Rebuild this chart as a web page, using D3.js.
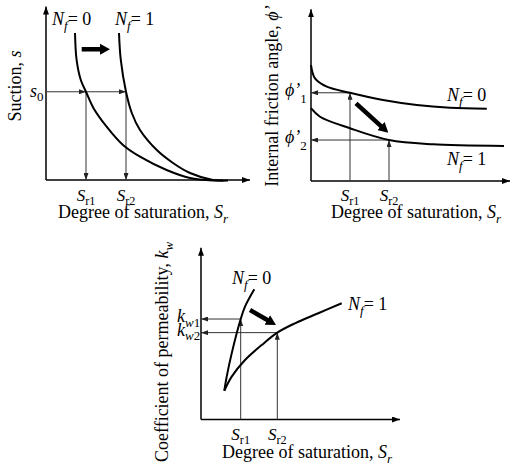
<!DOCTYPE html>
<html><head><meta charset="utf-8">
<script src="https://cdn.jsdelivr.net/npm/d3@7"></script>
<style>
body{margin:0;background:#fff}
svg{display:block}
</style>
</head><body>
<svg id="c" width="514" height="466"></svg>
<script>
// ---------- DATA ----------
// Panel A: suction s vs degree of saturation Sr (arbitrary 0-100 units)
const suctionNf0 = [[14.5,86.5],[15.3,70.6],[17.4,58.8],[20,51.9],[23.7,42.4],[30.3,31.4],[38.5,20.6],[47,13.7],[60.3,5.9],[72,1.2],[83.5,-0.3],[88.5,-0.3]];
const suctionNf1 = [[36.5,86.5],[37.4,70.6],[40,51.9],[42.9,39.4],[47,29.4],[55.4,17.6],[63.5,10],[72,4.1],[83.5,0],[91,-0.3]];
const suctionRefX = [20, 40];      // Sr1, Sr2
const suctionRefY = [51.9];        // s0
const suctionShift = [[17.85,76.9],[32,76.9]];

// Panel B: internal friction angle vs degree of saturation
const frictionNf0 = [[0,68.2],[2,60.4],[7.9,55.5],[19.5,51.9],[36,47.6],[52.9,44.7],[69.5,43.1],[87.9,42.5]];
const frictionNf1 = [[0,42.8],[4.5,37.8],[19.5,31],[39,24.1],[61,21.6],[96.5,20.6]];
const frictionRefX = [19.5, 39];   // Sr1, Sr2
const frictionRefY = [51.9, 24.1]; // phi'1, phi'2
const frictionShift = [[22.5,45.7],[38.65,28.4]];

// Panel C: coefficient of permeability vs degree of saturation
const permNf0 = [[11.65,16.9],[12.85,25.2],[15.35,38.9],[19.85,59.1],[22,66.4],[26.65,76.6]];
const permNf1 = [[11.65,16.9],[15.35,25.2],[22,35],[30.35,43.8],[38.15,51.1],[47,56.6],[58.65,62.5],[70.35,68.4]];
const permRefX = [19.85, 38.15];   // Sr1, Sr2
const permRefY = [59.1, 51.1];     // kw1, kw2
const permShift = [[24.5,64.4],[37.5,55.6]];

// Text labels
const xTitle = [["Degree of saturation, ",""],["S","i"],["r","isub"]];
const yTitles = [
  [["Suction, ",""],["s","i"]],
  [["Internal friction angle, ",""],["ϕ’","i"]],
  [["Coefficient of permeability, ",""],["k","i"],["w","isub"]]
];
const nfLabels = [[["N","i"],["f","isub"],["= 0","up"]], [["N","i"],["f","isub"],["= 1","up"]]];
const srLabels = [[["S","i"],["r1","sub"]], [["S","i"],["r2","sub"]]];
const s0Label = [["s","i"],["0","sub"]];
const phiLabels = [[["ϕ’","i"],["1","lowsub"]], [["ϕ’","i"],["2","lowsub"]]];
const kwLabels = [[["k","i"],["w","isub"],["1","sub2"]], [["k","i"],["w","isub"],["2","sub2"]]];

// ---------- DRAWING ----------
const FONT = "Liberation Serif";
const svg = d3.select("#c");
const defs = svg.append("defs");
function marker(id, w, l, color){
  defs.append("marker").attr("id", id).attr("viewBox", `0 ${-w/2} ${l} ${w}`)
    .attr("refX", l).attr("refY", 0).attr("markerWidth", l).attr("markerHeight", w)
    .attr("markerUnits", "userSpaceOnUse").attr("orient", "auto")
    .append("path").attr("d", `M0,${-w/2}L${l},0L0,${w/2}Z`).attr("fill", color);
}
marker("thin", 5, 7, "#222");
marker("axis", 6, 8, "#000");
marker("thick", 11, 10, "#000");

function rich(g, x, y, parts, size, anchor, rotate){
  const t = g.append("text").attr("font-size", size).attr("text-anchor", anchor || "start")
    .attr("font-family", FONT).attr("fill", "#000");
  if (rotate) t.attr("transform", `translate(${x},${y}) rotate(-90)`);
  else t.attr("x", x).attr("y", y);
  let shift = 0;
  parts.forEach(([s, st]) => {
    const sp = t.append("tspan").text(s);
    let target = 0, fs = size;
    if (st === "i") sp.attr("font-style", "italic");
    if (st === "isub"){ sp.attr("font-style","italic"); target = size*0.25; fs = size*0.72; }
    if (st === "sub"){ target = size*0.22; fs = size*0.72; }
    if (st === "sub2"){ target = size*0.25; fs = size*0.72; }
    if (st === "lowsub"){ target = size*0.38; fs = size*0.72; }
    sp.attr("font-size", fs);
    if (target !== shift){ sp.attr("dy", target - shift); shift = target; }
  });
  return t;
}

function panel(cfg){
  const g = svg.append("g");
  const x = d3.scaleLinear().domain([0,100]).range(cfg.xr);
  const y = d3.scaleLinear().domain([0,100]).range(cfg.yr);
  const L = d3.line().x(d => x(d[0])).y(d => y(d[1])).curve(d3.curveCatmullRom.alpha(0.5));
  // axes
  g.append("line").attr("x1", x(0)).attr("y1", y(0)).attr("x2", x(0)).attr("y2", y(cfg.yTop))
    .attr("stroke", "#000").attr("stroke-width", 1.5).attr("marker-end", "url(#axis)");
  g.append("line").attr("x1", x(0)).attr("y1", y(0)).attr("x2", x(cfg.xEnd)).attr("y2", y(0))
    .attr("stroke", "#000").attr("stroke-width", 1.5).attr("marker-end", "url(#axis)");
  // reference arrows
  const thin = (x1,y1,x2,y2) => g.append("line").attr("x1",x(x1)).attr("y1",y(y1)).attr("x2",x(x2)).attr("y2",y(y2))
    .attr("stroke","#333").attr("stroke-width",1).attr("marker-end","url(#thin)");
  cfg.refs(thin);
  // curves
  cfg.curves.forEach(c => g.append("path").attr("d", L(c)).attr("fill","none").attr("stroke","#000").attr("stroke-width",2));
  // shift arrow
  const [a, b] = cfg.shift;
  const ax = x(a[0]), ay = y(a[1]), bx = x(b[0]), by = y(b[1]);
  const len = Math.hypot(bx-ax, by-ay), ux = (bx-ax)/len, uy = (by-ay)/len;
  g.append("line").attr("x1", ax).attr("y1", ay).attr("x2", bx - ux*8).attr("y2", by - uy*8)
    .attr("stroke","#000").attr("stroke-width",4.5);
  g.append("line").attr("x1", bx - ux*9).attr("y1", by - uy*9).attr("x2", bx).attr("y2", by)
    .attr("stroke","none").attr("marker-end","url(#thick)");
  return {g, x, y};
}

// Panel A
const A = panel({xr:[46,246], yr:[180,10], yTop:102, xEnd:102,
  curves:[suctionNf0, suctionNf1], shift: suctionShift,
  refs: t => {
    t(0, suctionRefY[0], suctionRefX[0], suctionRefY[0]);
    t(suctionRefX[0], suctionRefY[0], suctionRefX[1], suctionRefY[0]);
    t(suctionRefX[0], suctionRefY[0], suctionRefX[0], 0);
    t(suctionRefX[1], suctionRefY[0], suctionRefX[1], 0);
  }});
rich(A.g, 52, 25, nfLabels[0], 18);
rich(A.g, 115, 25, nfLabels[1], 18);
rich(A.g, 30, A.y(suctionRefY[0]) + 5, s0Label, 18);
suctionRefX.forEach((v,i) => rich(A.g, A.x(v), 201, srLabels[i], 17, "middle"));
rich(A.g, 143, 218, xTitle, 18, "middle");
rich(A.g, 21, 86, yTitles[0], 18, "middle", true);

// Panel B
const B = panel({xr:[311,511], yr:[181,11], yTop:101, xEnd:99.5,
  curves:[frictionNf0, frictionNf1], shift: frictionShift,
  refs: t => {
    frictionRefX.forEach((v,i) => {
      t(v, 0, v, frictionRefY[i]);
      t(v, frictionRefY[i], 0, frictionRefY[i]);
    });
  }});
rich(B.g, 447, 101, nfLabels[0], 18);
rich(B.g, 447, 165, nfLabels[1], 18);
frictionRefY.forEach((v,i) => rich(B.g, 285, B.y(v) + 3, phiLabels[i], 18));
frictionRefX.forEach((v,i) => rich(B.g, B.x(v), 201, srLabels[i], 17, "middle"));
rich(B.g, 416, 218, xTitle, 18, "middle");
rich(B.g, 278, 96, yTitles[1], 18, "middle", true);

// Panel C
const C = panel({xr:[201,401], yr:[419.5,249.5], yTop:101, xEnd:99.5,
  curves:[permNf0, permNf1], shift: permShift,
  refs: t => {
    permRefX.forEach((v,i) => {
      t(v, 0, v, permRefY[i]);
      t(v, permRefY[i], 0, permRefY[i]);
    });
  }});
rich(C.g, 232, 284, nfLabels[0], 18);
rich(C.g, 348, 310, nfLabels[1], 18);
permRefY.forEach((v,i) => rich(C.g, 177, C.y(v) + 3, kwLabels[i], 18));
permRefX.forEach((v,i) => rich(C.g, C.x(v), 440, srLabels[i], 17, "middle"));
rich(C.g, 307, 458, xTitle, 18, "middle");
rich(C.g, 168, 352, yTitles[2], 18, "middle", true);
</script>
</body></html>
